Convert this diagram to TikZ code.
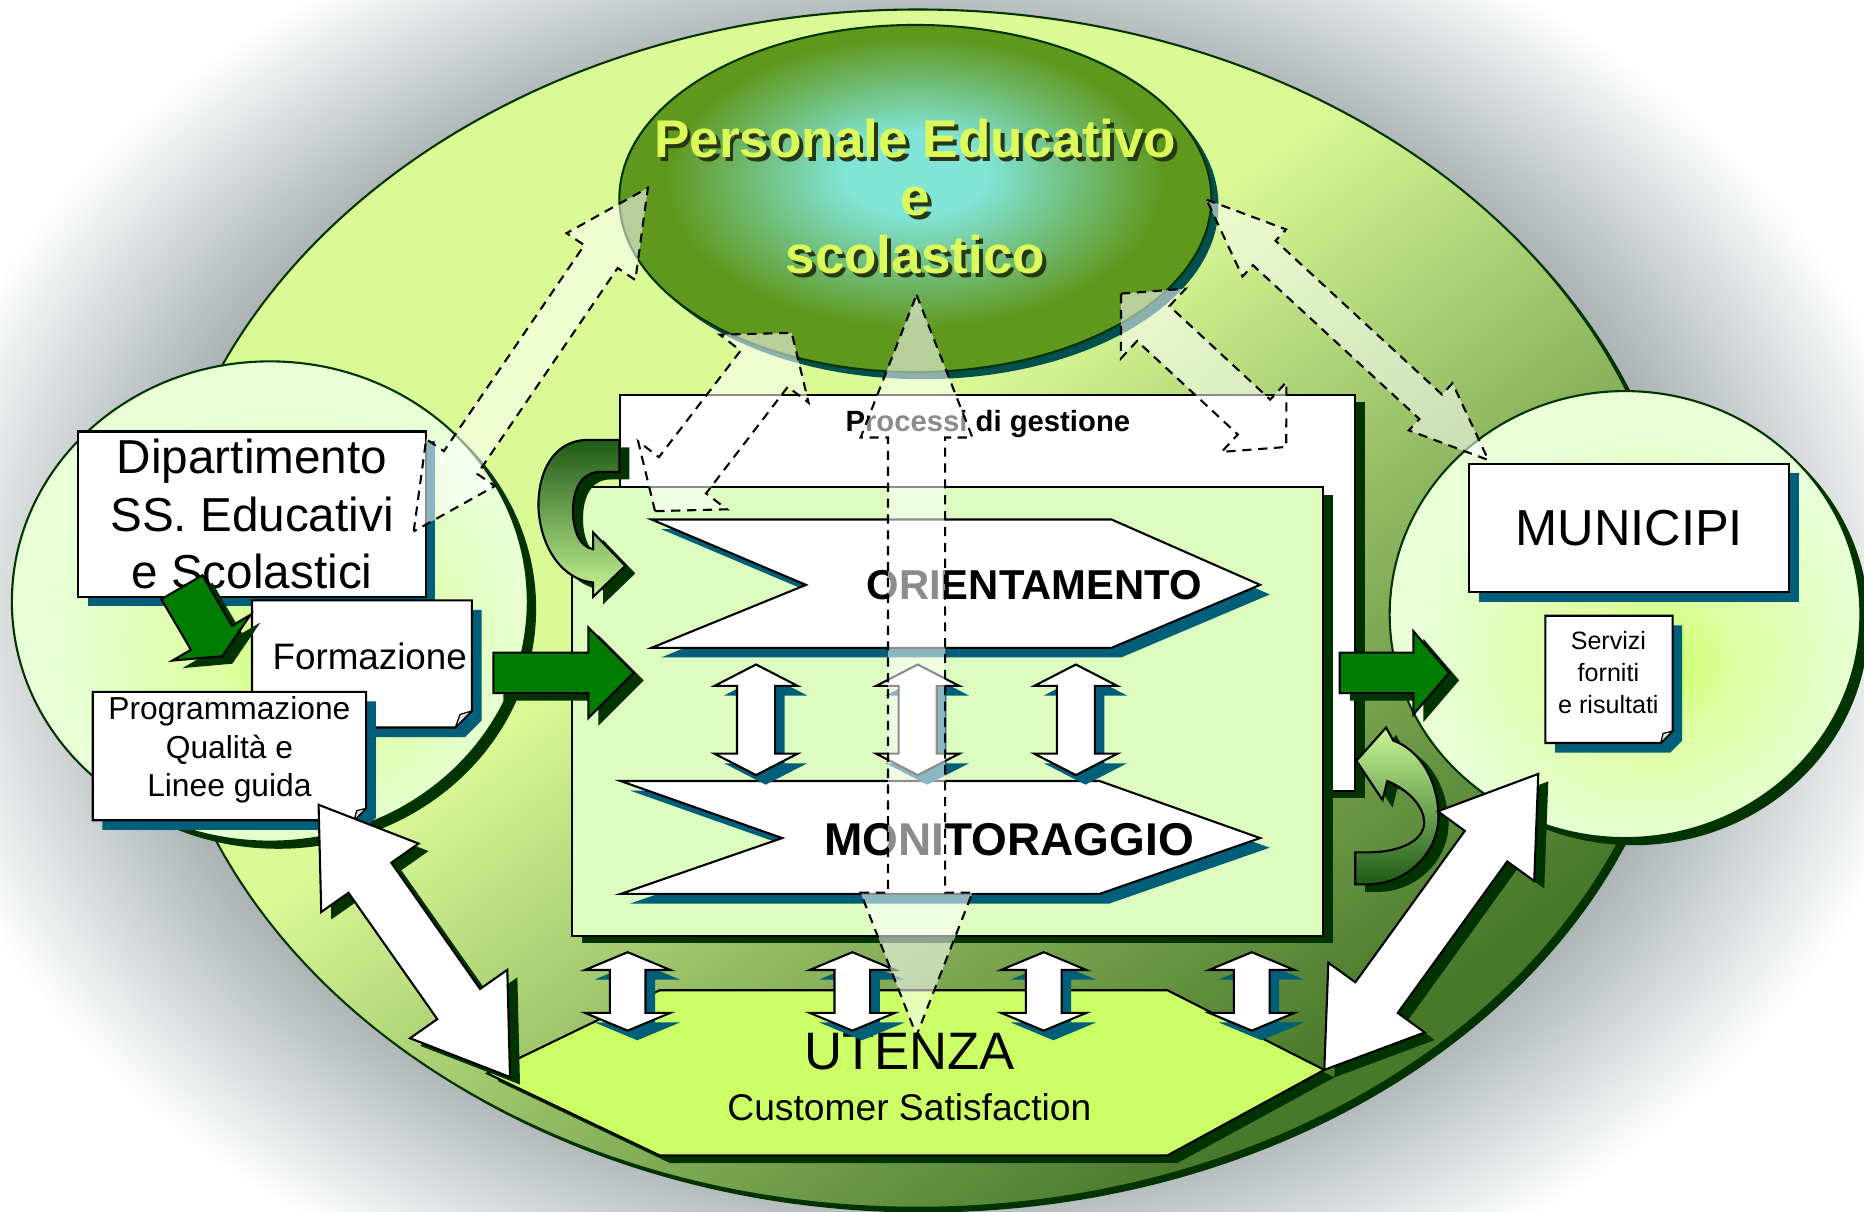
\documentclass[tikz,border=0pt]{standalone}
\usepackage{fontspec}
\setmainfont{Liberation Sans}
\usetikzlibrary{calc,positioning}

\definecolor{bggray}{RGB}{172,180,182}
\definecolor{biglight}{RGB}{218,250,150}
\definecolor{bigmid}{RGB}{145,186,98}
\definecolor{bigdark}{RGB}{72,120,42}
\definecolor{darkline}{RGB}{0,51,0}
\definecolor{tealshd}{RGB}{0,95,120}
\definecolor{topcyan}{RGB}{128,228,214}
\definecolor{topgreen}{RGB}{96,152,30}
\definecolor{topshd}{RGB}{0,80,80}
\definecolor{toptext}{RGB}{220,250,90}
\definecolor{glowshd}{RGB}{40,55,20}
\definecolor{mintfill}{RGB}{232,255,216}
\definecolor{limefill}{RGB}{204,255,102}
\definecolor{limemint}{RGB}{220,255,160}
\definecolor{panel}{RGB}{221,252,192}
\definecolor{arrgreen}{RGB}{0,124,0}
\definecolor{ribdark}{RGB}{30,90,22}
\definecolor{riblight}{RGB}{200,245,150}

\pgfdeclareradialshading{bgfill}{\pgfpoint{0bp}{0bp}}{color(0bp)=(bggray); color(19bp)=(bggray); color(25bp)=(white); color(50bp)=(white)}
\pgfdeclareverticalshading{bigfill}{100bp}{color(0bp)=(bigdark); color(27bp)=(bigdark); color(43bp)=(bigmid); color(56bp)=(biglight); color(100bp)=(biglight)}
\pgfdeclareradialshading{topfill}{\pgfpoint{0bp}{4bp}}{color(0bp)=(topcyan); color(6bp)=(topcyan); color(21bp)=(topgreen); color(50bp)=(topgreen)}
\pgfdeclareradialshading{sidefill}{\pgfpoint{4bp}{-6bp}}{color(0bp)=(limefill); color(8bp)=(limemint); color(24bp)=(mintfill); color(50bp)=(mintfill)}

\newcommand{\fsz}[2]{\fontsize{#1}{#2}\selectfont}
\newcommand{\glow}[1]{\makebox[0pt][l]{\hspace{0.9pt}\raisebox{-0.9pt}{\color{glowshd}#1}}#1}

% #1 from, #2 to, #3 head length, #4 head half width, #5 shaft half width, #6 style
\newcommand{\twoway}[6]{%
  \path[#6] (#1)
    -- ($(#1)!#3!(#2)!#4!90:(#2)$)
    -- ($(#1)!#3!(#2)!#5!90:(#2)$)
    -- ($(#2)!#3!(#1)!#5!-90:(#1)$)
    -- ($(#2)!#3!(#1)!#4!-90:(#1)$)
    -- (#2)
    -- ($(#2)!#3!(#1)!#4!90:(#1)$)
    -- ($(#2)!#3!(#1)!#5!90:(#1)$)
    -- ($(#1)!#3!(#2)!#5!-90:(#2)$)
    -- ($(#1)!#3!(#2)!#4!-90:(#2)$)
    -- cycle;}
\newcommand{\oneway}[6]{%
  \path[#6] ($(#1)!#5!90:(#2)$)
    -- ($(#2)!#3!(#1)!#5!-90:(#1)$)
    -- ($(#2)!#3!(#1)!#4!-90:(#1)$)
    -- (#2)
    -- ($(#2)!#3!(#1)!#4!90:(#1)$)
    -- ($(#2)!#3!(#1)!#5!90:(#1)$)
    -- ($(#1)!#5!-90:(#2)$)
    -- cycle;}

\begin{document}
\begin{tikzpicture}[x=0.01cm,y=-0.01cm,line width=0.5pt]
\tikzstyle{darkdrop}=[preaction={fill=darkline,transform canvas={xshift=2.4pt,yshift=-1.8pt}}]
\tikzstyle{tealdrop}=[preaction={fill=tealshd,transform canvas={xshift=2.3pt,yshift=-2.3pt}}]
\tikzstyle{box}=[draw=black,fill=white,inner sep=0pt,outer sep=0pt,align=center]
\tikzstyle{doc}=[draw=black,fill=white]
\tikzstyle{foldcorner}=[draw=black,fill=gray!25,line width=0.3pt]
\tikzstyle{chev}=[draw=black,fill=white]
\tikzstyle{whitearrow}=[draw=black,fill=white]
\tikzstyle{greenarrow}=[draw=black,fill=arrgreen]
\tikzstyle{ghost}=[draw=black,fill=white,fill opacity=0.55,dash pattern=on 2.2pt off 1.6pt]

\useasboundingbox (0,0) rectangle (1568,1019);
\fill[white] (0,0) rectangle (1568,1019);
\shade[shading=bgfill] (772,512) ellipse [x radius=860, y radius=640];

% outer ring and the three groups
\fill[darkline] (777,516) ellipse [x radius=640, y radius=504];
\shadedraw[shading=bigfill,shading angle=37,draw=darkline] (772,512) ellipse [x radius=640, y radius=504];
\fill[topshd] (776,173) ellipse [x radius=249, y radius=146];
\shadedraw[shading=topfill,draw=darkline] (770,167) ellipse [x radius=249, y radius=146];
\fill[darkline] (234,512) ellipse [x radius=217, y radius=202];
\shadedraw[shading=sidefill,draw=darkline] (227,506) ellipse [x radius=217, y radius=202];
\fill[darkline] (1374,523) ellipse [x radius=198, y radius=188];
\shadedraw[shading=sidefill,draw=darkline] (1367,517) ellipse [x radius=198, y radius=188];

\node[align=center,inner sep=0pt,text=toptext,font=\bfseries\fsz{12.7}{13.9}] (pers) at (770,167) {\glow{Personale Educativo}\\\glow{e}\\\glow{scolastico}};

% processes
\node[box,darkdrop,minimum width=6.18cm,minimum height=3.33cm] (gest) at (831,498.5) {};
\node[font=\bfseries\fsz{7}{8.4}] (gestlbl) at (831,357) {Processi di gestione};
\node[box,darkdrop,fill=panel,minimum width=6.32cm,minimum height=3.77cm] (panel) at (797,598.5) {};

\path[chev,tealdrop] (548,437) -- (935,437) -- (1060,492) -- (935,545) -- (548,545) -- (678,492) -- cycle;
\node[font=\bfseries\fsz{10}{12}] (orient) at (870,492) {ORIENTAMENTO};
\path[chev,tealdrop] (522,657) -- (925,657) -- (1060,705) -- (925,752) -- (522,752) -- (658,705) -- cycle;
\node[font=\bfseries\fsz{11}{13}] (monit) at (849,706) {MONITORAGGIO};

\foreach \x [count=\i] in {636,772,905}{
  \coordinate (o\i) at (\x,559);
  \coordinate (m\i) at (\x,652);
  \twoway{o\i}{m\i}{1.8mm}{3.5mm}{1.6mm}{whitearrow,tealdrop}
}

% users
\path[draw=black,fill=limefill,darkdrop] (410,903) -- (555,833) -- (982,833) -- (1114,900) -- (982,972) -- (555,972) -- cycle;
\node[font=\fsz{12.6}{15}] (ut) at (765,885) {UTENZA};
\node[font=\fsz{8.9}{10.5}] (cs) at (765,931) {Customer Satisfaction};

\foreach \x [count=\i] in {528,717,878,1053}{
  \coordinate (p\i) at (\x,801);
  \coordinate (u\i) at (\x,867);
  \twoway{p\i}{u\i}{1.5mm}{3.6mm}{1.5mm}{whitearrow,tealdrop}
}

% department
\node[box,tealdrop,minimum width=2.92cm,minimum height=1.39cm,font=\fsz{11.4}{13.7}] (dip) at (212,432.5) {Dipartimento\\SS. Educativi\\e Scolastici};
\path[doc,tealdrop] (212,505) -- (397,505) -- (397,598) -- (383,612) -- (212,612) -- cycle;
\path[foldcorner] (397,598) -- (387,601) -- (383,612) -- cycle;
\node[font=\fsz{8.8}{10.5}] (form) at (311,552) {Formazione};
\path[doc,tealdrop] (78,582) -- (308,582) -- (308,680) -- (298,690) -- (78,690) -- cycle;
\path[foldcorner] (308,680) -- (300,682) -- (298,690) -- cycle;
\node[align=center,font=\fsz{7.6}{9.2}] (prog) at (193,631) {Programmazione\\Qualità e\\Linee guida};

% municipalities
\node[box,tealdrop,minimum width=2.69cm,minimum height=1.08cm,font=\fsz{12.1}{14}] (mun) at (1370.5,444) {MUNICIPI};
\path[doc,tealdrop] (1300,518) -- (1407,518) -- (1407,615) -- (1397,625) -- (1300,625) -- cycle;
\path[foldcorner] (1407,615) -- (1399,617) -- (1397,625) -- cycle;
\node[align=center,font=\fsz{6}{7.7}] (serv) at (1353,566) {Servizi\\forniti\\e risultati};

% flows
\coordinate (dipout) at (153,494);
\coordinate (formin) at (187,552);
\oneway{dipout}{formin}{1.8mm}{3.8mm}{2mm}{greenarrow,darkdrop}
\coordinate (lin) at (415,566);
\coordinate (lout) at (533,566);
\oneway{lin}{lout}{3.8mm}{3.8mm}{1.7mm}{greenarrow,darkdrop}
\coordinate (rin) at (1127,566);
\coordinate (rout) at (1219,566);
\oneway{rin}{rout}{3mm}{3.5mm}{1.7mm}{greenarrow,darkdrop}

\shadedraw[top color=ribdark,bottom color=riblight,draw=black,darkdrop]
  (521,370) -- (495,370) .. controls (465,370) and (452,398) .. (453,428)
  .. controls (455,462) and (474,488) .. (499,490) -- (499,502) -- (526,476) -- (499,448) -- (499,462)
  .. controls (487,460) and (482,445) .. (482,430) .. controls (482,410) and (490,397) .. (505,397) -- (521,397) -- cycle;
\shadedraw[top color=riblight,bottom color=ribdark,draw=black,darkdrop]
  (1140,744) -- (1150,744) .. controls (1185,744) and (1212,715) .. (1210,683)
  .. controls (1208,652) and (1192,630) .. (1172,623) -- (1166,612) -- (1141,640) -- (1163,673) -- (1167,657)
  .. controls (1184,664) and (1198,678) .. (1198,692) .. controls (1198,706) and (1180,717) .. (1150,717) -- (1140,717) -- cycle;

\coordinate (prgcorner) at (268,677);
\coordinate (utleft) at (429,906);
\twoway{prgcorner}{utleft}{7.5mm}{5mm}{2.2mm}{whitearrow,darkdrop}
\coordinate (munlow) at (1294,651);
\coordinate (utright) at (1114,900);
\twoway{munlow}{utright}{7.5mm}{5mm}{2.2mm}{whitearrow,darkdrop}

% exchanges with the staff
\coordinate (a1) at (348,447);
\coordinate (a2) at (545,158);
\twoway{a1}{a2}{7mm}{3.5mm}{1.7mm}{ghost}
\coordinate (b1) at (551,430);
\coordinate (b2) at (666,280);
\twoway{b1}{b2}{3.8mm}{4.7mm}{2.5mm}{ghost}
\coordinate (c1) at (771,248);
\coordinate (c2) at (771,871);
\twoway{c1}{c2}{12mm}{4.7mm}{2.4mm}{ghost}
\coordinate (d1) at (943,247);
\coordinate (d2) at (1082,376);
\twoway{d1}{d2}{3.7mm}{4mm}{2mm}{ghost}
\coordinate (e1) at (1015,168);
\coordinate (e2) at (1252,387);
\twoway{e1}{e2}{6.6mm}{2.7mm}{1.4mm}{ghost}
\end{tikzpicture}
\end{document}
